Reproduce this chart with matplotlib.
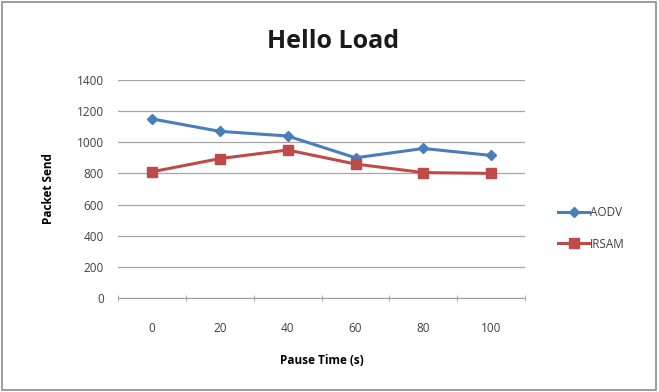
import matplotlib
matplotlib.use("Agg")
import matplotlib.pyplot as plt
from matplotlib.patches import Rectangle

# Pause time categories and packets sent per protocol
pause_times = ["0", "20", "40", "60", "80", "100"]
aodv = [1150, 1070, 1040, 900, 960, 915]
irsam = [810, 895, 950, 860, 805, 800]
y_ticks = [0, 200, 400, 600, 800, 1000, 1200, 1400]

plt.rcParams["font.family"] = ["Open Sans", "DejaVu Sans"]

fig = plt.figure(figsize=(6.59, 3.92), dpi=100)
ax = fig.add_axes([0.179, 0.240, 0.618, 0.556])

x = list(range(len(pause_times)))
ax.plot(x, aodv, color="#4a7ebb", marker="D", markersize=5, linewidth=2.2,
        label="AODV", zorder=3)
ax.plot(x, irsam, color="#be4b48", marker="s", markersize=7, linewidth=2.2,
        label="IRSAM", zorder=3)

ax.set_xlim(-0.5, len(pause_times) - 0.5)
ax.set_ylim(0, 1400)
ax.set_yticks(y_ticks)
ax.set_xticks(x)
ax.set_xticklabels(pause_times)
ax.tick_params(axis="both", labelsize=8.5, colors="#404040", length=0)
ax.tick_params(axis="y", pad=10)
ax.tick_params(axis="x", pad=17)
ax.set_xticks([i + 0.5 for i in range(-1, len(pause_times))], minor=True)
ax.tick_params(axis="x", which="minor", length=4, color="#a0a0a0",
               direction="inout")

ax.grid(axis="y", color="#a6a6a6", linewidth=0.9)
ax.set_axisbelow(True)
for side in ("top", "right", "left"):
    ax.spines[side].set_visible(False)
ax.spines["bottom"].set_color("#a0a0a0")

ax.set_xlabel("Pause Time (s)", fontsize=8.5, fontweight="bold", labelpad=14)
ax.set_ylabel("Packet Send", fontsize=8.5, fontweight="bold", labelpad=16)
fig.text(0.505, 0.893, "Hello Load", ha="center", va="center", fontsize=18,
         fontweight="bold", color="#1a1a1a")

ax.legend(loc="center left", bbox_to_anchor=(1.055, 0.32), frameon=False,
          fontsize=8.5, handlelength=2.6, handletextpad=0.1, labelspacing=1.6,
          labelcolor="#404040")

# chart frame
fig.patches.append(Rectangle((0.003, 0.005), 0.992, 0.99,
                             transform=fig.transFigure, fill=False,
                             edgecolor="#8c8c8c", linewidth=1.2))

fig.savefig("out.png", dpi=100)
